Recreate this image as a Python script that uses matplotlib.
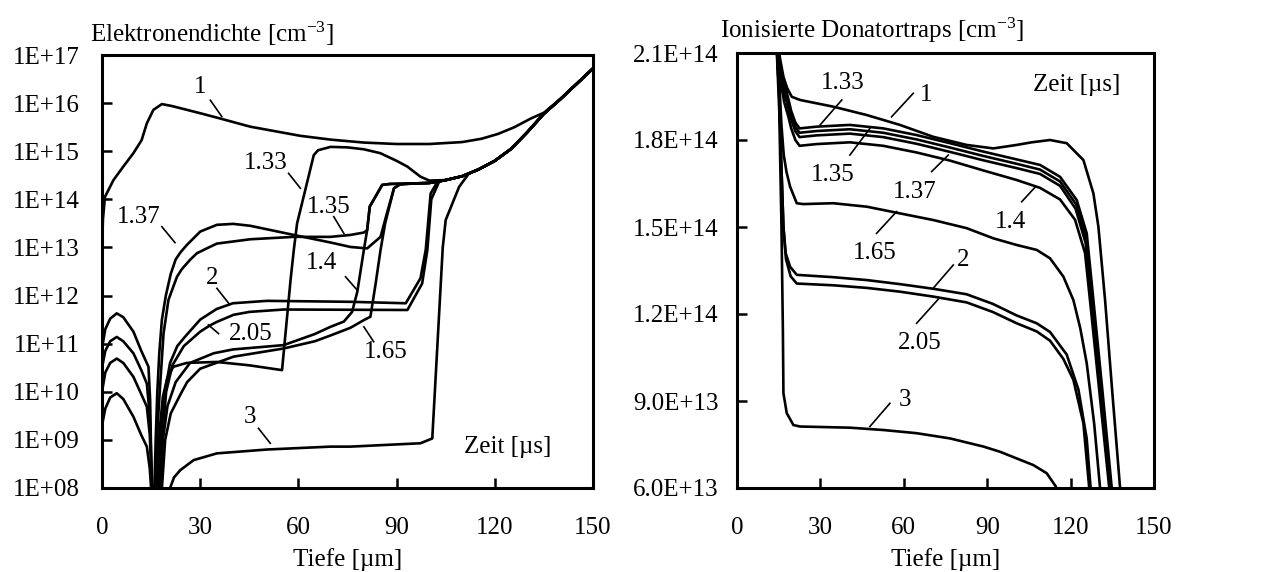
import numpy as np
import matplotlib.pyplot as plt

plt.rcParams['font.family'] = ['Liberation Serif', 'DejaVu Serif']
plt.rcParams['mathtext.fontset'] = 'custom'
plt.rcParams['mathtext.rm'] = 'Liberation Serif'
plt.rcParams['mathtext.it'] = 'Liberation Serif:italic'
FS = 18
plt.rcParams['font.size'] = FS

# ---------------- Elektronendichte (exponents of 10) ----------------
tail_x = [105, 110, 115, 120, 125, 130, 135, 140, 145, 150]
tail_e = [14.40, 14.48, 14.62, 14.80, 15.05, 15.40, 15.78, 16.08, 16.40, 16.72]

n1_x = [0, 0.3, 0.9, 3.5, 6.5, 9.6, 12.1, 13.7, 15.7, 18.3, 21.3, 30, 36.1, 45.3,
        60.6, 70, 80, 90, 100, 110, 116, 121, 126, 131, 135]
n1_e = [13.0, 13.6, 14.05, 14.40, 14.68, 14.96, 15.23, 15.58, 15.86, 15.98, 15.94,
        15.79, 15.68, 15.51, 15.32, 15.24, 15.18, 15.15, 15.15, 15.19, 15.26, 15.36,
        15.50, 15.68, 15.80]

n133_x = [16.4, 17.0, 17.6, 18.6, 20.0, 21.8, 25.9, 35, 45, 55, 57.6, 58.6, 59.6,
          64.7, 66, 69.8, 75, 80, 85, 90, 93.3, 97.3, 100]
n133_e = [7.0, 8.0, 9.2, 9.9, 10.3, 10.52, 10.60, 10.62, 10.55, 10.45, 12.32, 12.95,
          13.5, 14.92, 15.02, 15.09, 15.08, 15.04, 14.96, 14.80, 14.68, 14.47, 14.39]

n135_x = [16.0, 16.5, 17.0, 17.8, 18.8, 20.3, 22.9, 24.4, 27, 29, 32, 35.1, 45.3,
          58.6, 69.8, 75.9, 80, 81, 81.8, 85.6, 88, 95, 100]
n135_e = [7.0, 8.0, 9.3, 10.18, 11.21, 11.91, 12.39, 12.55, 12.75, 12.88, 12.98,
          13.08, 13.17, 13.22, 13.22, 13.26, 13.31, 13.36, 13.85, 14.30, 14.32, 14.33, 14.34]

n137_x = [15.6, 16.0, 16.4, 16.9, 17.5, 18.3, 19.5, 21.0, 22.5, 24, 25.9, 30, 35.1,
          40.1, 45.3, 58.6, 70, 75.9, 81, 85.1, 87, 89.2, 91, 95, 100]
n137_e = [7.0, 8.0, 9.0, 10.0, 10.8, 11.5, 12.0, 12.45, 12.75, 12.9, 13.05, 13.33,
          13.47, 13.49, 13.45, 13.26, 13.10, 13.01, 12.98, 13.22, 13.7, 14.23, 14.31,
          14.33, 14.34]

n14_x = [0, 1, 2.5, 4.5, 6.5, 9.6, 12, 14.2, 14.7, 15.2, 15.8, 16.9, 17.8, 18.6, 20.0,
         22.5, 26.9, 34.1, 40, 55.5, 65, 69.8, 73.9, 76.4, 78, 80, 81, 81.8, 85.6, 88,
         95, 100]
n14_e = [10.9, 11.3, 11.52, 11.63, 11.55, 11.25, 10.85, 10.52, 9.83, 8.0, 7.0, 7.0,
         8.0, 9.0, 9.7, 10.2, 10.6, 10.8, 10.88, 10.97, 11.2, 11.35, 11.46, 11.66,
         12.08, 12.95, 13.36, 13.85, 14.30, 14.32, 14.33, 14.34]

n165_x = [0, 1, 2.5, 4.5, 6.5, 9.6, 12, 13.7, 14.6, 15.2, 16.0, 17.3, 18.3, 19.3, 21,
          24, 26, 30, 40.2, 55.5, 65, 69.8, 75.9, 80, 82, 83.6, 85.1, 86.5, 89.2, 91,
          95, 100]
n165_e = [10.5, 10.85, 11.05, 11.14, 11.05, 10.80, 10.45, 10.17, 9.5, 8.3, 7.0, 7.0,
          8.0, 9.0, 9.55, 9.95, 10.2, 10.48, 10.73, 10.90, 11.05, 11.17, 11.33, 11.49,
          11.56, 12.25, 12.95, 13.5, 14.23, 14.31, 14.33, 14.34]

n2_x = [0, 1, 2.5, 4.5, 6.5, 9.6, 12, 13.7, 14.6, 15.2, 16.0, 17.0, 17.6, 18.2, 19.2,
        20.8, 23, 25.3, 30, 35, 40, 50.4, 75.9, 92.8, 97.3, 98.9, 100.4, 102.5]
n2_e = [10.0, 10.4, 10.6, 10.69, 10.6, 10.31, 9.95, 9.69, 9.1, 8.1, 7.0, 7.0, 8.0, 9.2,
        10.0, 10.6, 10.95, 11.14, 11.5, 11.72, 11.84, 11.89, 11.87, 11.84, 12.36, 12.95,
        14.12, 14.37]

n205_x = [0, 1, 2.5, 4.5, 6.5, 9.6, 12, 13.7, 14.6, 15.2, 16.0, 17.2, 17.9, 18.6, 19.6,
          21.5, 25, 30, 33, 35, 40.2, 45, 55.5, 93.3, 97.8, 99.4, 100.6, 103]
n205_e = [9.3, 9.65, 9.88, 9.97, 9.85, 9.48, 9.1, 8.86, 8.4, 7.8, 7.0, 7.0, 8.0, 9.2,
          10.0, 10.55, 10.95, 11.25, 11.38, 11.45, 11.6, 11.66, 11.71, 11.70, 12.25,
          12.95, 14.0, 14.37]

n3_x = [20.0, 20.8, 22, 23.9, 28, 35.1, 50.4, 69.8, 75.9, 97.3, 100.9, 104.1, 105,
        109.1, 112]
n3_e = [7.0, 8.0, 8.22, 8.37, 8.58, 8.72, 8.80, 8.86, 8.86, 8.93, 9.03, 13.0, 13.57,
        14.26, 14.53]

# ---------------- Ionisierte Donatortraps (units of 1E+13) ----------------
d1_x = [14.0, 15.5, 16.7, 18.0, 19.7, 22.7, 34.6, 46.7, 58.6, 70.6, 82.6, 92.2, 100.6,
        106, 112.6, 118.6, 124.6, 128.2, 130, 132.4, 135, 137.8, 138.3]
d1_y = [21.8, 20.8, 20.18, 19.8, 19.49, 19.38, 19.15, 18.86, 18.52, 18.11, 17.83, 17.71,
        17.83, 17.92, 18.0, 17.89, 17.31, 16.16, 15.01, 12.48, 9.3, 6.0, 5.5]

d133_x = [14.0, 15.5, 17.0, 18.5, 19.5, 21.0, 22.5, 28.7, 40.6, 52.6, 64.6, 76.6, 88.6,
          100.6, 109, 116.2, 122.2, 125.8, 128.2, 131.5, 134.8, 135.3]
d133_y = [21.8, 20.5, 20.0, 19.4, 19.0, 18.6, 18.40, 18.46, 18.52, 18.40, 18.17, 17.89,
          17.60, 17.33, 17.14, 16.73, 15.93, 14.78, 12.48, 9.3, 6.0, 5.5]

d135_x = [14.0, 15.5, 17.0, 18.5, 19.5, 21.0, 22.5, 28.7, 40.6, 52.6, 64.6, 76.6, 88.6,
          100.6, 109, 116.2, 122.0, 125.6, 128.0, 131.2, 134.5, 135.0]
d135_y = [21.8, 20.4, 19.8, 19.25, 18.85, 18.45, 18.25, 18.31, 18.37, 18.25, 18.02, 17.74,
          17.45, 17.18, 16.98, 16.57, 15.78, 14.6, 12.3, 9.2, 6.0, 5.5]

d137_x = [14.0, 15.5, 17.0, 18.5, 19.5, 21.0, 22.5, 28.7, 40.6, 52.6, 64.6, 76.6, 88.6,
          100.6, 109, 116.2, 121.8, 125.4, 127.8, 131.0, 134.2, 134.7]
d137_y = [21.8, 20.3, 19.6, 19.1, 18.7, 18.3, 18.1, 18.16, 18.22, 18.10, 17.87, 17.59,
          17.30, 17.03, 16.83, 16.42, 15.63, 14.45, 12.15, 9.1, 6.0, 5.5]

d14_x = [14.0, 15.5, 17.0, 18.5, 19.5, 21.0, 22.5, 28.7, 40.6, 52.6, 64.6, 76.6, 88.6,
         100.6, 109, 116.2, 121.6, 125.2, 127.6, 130.8, 133.9, 134.4]
d14_y = [21.8, 20.1, 19.3, 18.8, 18.4, 18.0, 17.8, 17.86, 17.92, 17.80, 17.57, 17.29,
         16.95, 16.62, 16.35, 15.95, 15.25, 14.1, 11.9, 8.9, 6.0, 5.5]

d165_x = [14.0, 15.2, 16.0, 16.8, 17.8, 19.1, 21.5, 23.8, 34.6, 46.7, 58.6, 70.6, 82.6,
          92.2, 100.6, 107.8, 112.6, 117.4, 121, 123.5, 125.8, 128.5, 130.6, 131.0]
d165_y = [21.8, 20.0, 18.5, 17.5, 16.9, 16.39, 15.82, 15.79, 15.82, 15.70, 15.47, 15.24,
          14.96, 14.61, 14.38, 14.21, 13.92, 13.29, 12.48, 11.5, 10.3, 8.2, 6.0, 5.5]

d2_x = [14.0, 15.2, 16.0, 16.7, 17.5, 19.1, 21.5, 34.6, 46.7, 58.6, 70.6, 82.6, 92,
        100.6, 107.8, 112.6, 118.6, 122.8, 125.8, 127.2, 127.6]
d2_y = [21.8, 19.5, 17.0, 15.0, 14.1, 13.63, 13.35, 13.27, 13.17, 13.03, 12.87, 12.68,
        12.35, 11.95, 11.68, 11.38, 10.6, 9.4, 7.7, 6.0, 5.5]

d205_x = [14.0, 15.2, 16.0, 16.7, 17.6, 19.3, 21.5, 34.6, 46.7, 58.6, 70.6, 82.6, 92,
          100.6, 107.8, 112.6, 117.4, 121, 124.6, 126.7, 127.1]
d205_y = [21.8, 19.5, 17.0, 15.0, 13.9, 13.3, 13.05, 12.99, 12.90, 12.77, 12.60, 12.40,
          12.07, 11.68, 11.40, 11.08, 10.45, 9.73, 8.23, 6.0, 5.5]

d3_x = [14.0, 15.2, 16.0, 16.5, 16.7, 17.9, 20.3, 22.7, 40.6, 52.6, 64.6, 76.6, 88.6,
        94.6, 100.6, 106.6, 111.4, 114.7, 115.2]
d3_y = [21.8, 19.0, 15.0, 11.5, 9.27, 8.58, 8.17, 8.12, 8.08, 8.0, 7.89, 7.71, 7.43,
        7.25, 7.02, 6.79, 6.51, 6.05, 5.5]

left_ticks = [8, 9, 10, 11, 12, 13, 14, 15, 16, 17]
right_ticks = [6.0, 9.0, 12.0, 15.0, 18.0, 21.0]
right_tick_labels = ['6.0E+13', '9.0E+13', '1.2E+14', '1.5E+14', '1.8E+14', '2.1E+14']
x_ticks = [0, 30, 60, 90, 120, 150]

LW = 1.9
fig = plt.figure(figsize=(12.73, 5.72), dpi=100)
ax1 = fig.add_axes([102 / 1273, 84 / 572, 491 / 1273, 433 / 572])
ax2 = fig.add_axes([737 / 1273, 84 / 572, 417 / 1273, 435 / 572])

# left panel: every curve after the plateau follows the common tail
left_series = [
    (n1_x, n1_e, 140),
    (n133_x, n133_e, 105),
    (n135_x, n135_e, 105),
    (n137_x, n137_e, 105),
    (n14_x, n14_e, 105),
    (n165_x, n165_e, 105),
    (n2_x, n2_e, 105),
    (n205_x, n205_e, 105),
    (n3_x, n3_e, 115),
]
tx = np.array(tail_x)
te = np.array(tail_e)
for xs, es, start in left_series:
    sel = tx >= start
    x = np.concatenate([xs, tx[sel]])
    e = np.concatenate([es, te[sel]])
    ax1.plot(x, 10.0 ** e, color='black', lw=LW, solid_joinstyle='round')

ax1.set_yscale('log')
ax1.set_xlim(0, 150)
ax1.set_ylim(1e8, 1e17)
ax1.set_yticks([10.0 ** k for k in left_ticks])
ax1.set_yticklabels(['1E+%02d' % k for k in left_ticks])
ax1.yaxis.set_minor_locator(plt.NullLocator())

for xs, ys in [(d1_x, d1_y), (d133_x, d133_y), (d135_x, d135_y), (d137_x, d137_y),
               (d14_x, d14_y), (d165_x, d165_y), (d2_x, d2_y), (d205_x, d205_y),
               (d3_x, d3_y)]:
    ax2.plot(xs, np.array(ys) * 1e13, color='black', lw=LW, solid_joinstyle='round')

ax2.set_xlim(0, 150)
ax2.set_ylim(6.0e13, 2.1e14)
ax2.set_yticks([v * 1e13 for v in right_ticks])
ax2.set_yticklabels(right_tick_labels)

for ax, ypad in [(ax1, 16), (ax2, 13)]:
    ax.set_xticks(x_ticks)
    ax.set_xticklabels([str(v) for v in x_ticks])
    for s in ax.spines.values():
        s.set_linewidth(2.2)
    ax.tick_params(axis='x', direction='in', length=7, width=1.8, pad=21, labelsize=FS)
    ax.tick_params(axis='y', direction='in', length=7, width=1.8, pad=ypad, labelsize=FS)

# curve labels with leader lines: (text, text x, text y, line start, line end)
left_labels = [
    ('1', 30.0, 16.34, (33.1, 16.06), (36.6, 15.72)),
    ('1.33', 49.9, 14.75, (57.0, 14.54), (60.6, 14.23)),
    ('1.35', 69.2, 13.85, (70.8, 13.64), (73.9, 13.29)),
    ('1.37', 11.1, 13.64, (18.3, 13.43), (22.3, 13.10)),
    ('2', 33.6, 12.36, (35.1, 12.15), (38.7, 11.84)),
    ('2.05', 45.3, 11.21, (35.6, 11.21), (32.5, 11.39)),
    ('1.4', 67.2, 12.67, (74.4, 12.39), (78.0, 12.11)),
    ('1.65', 86.6, 10.83, (83.0, 11.04), (80.0, 11.35)),
    ('3', 45.3, 9.48, (47.8, 9.24), (51.4, 8.93)),
]
for txt, x, e, p0, p1 in left_labels:
    ax1.text(x, 10.0 ** e, txt, ha='center', va='center', fontsize=FS)
    ax1.plot([p0[0], p1[0]], [10.0 ** p0[1], 10.0 ** p1[1]], color='black', lw=1.2)

right_labels = [
    ('1.33', 38.2, 19.96, (37.7, 19.38), (29.9, 18.52)),
    ('1', 68.2, 19.55, (63.4, 19.61), (55.6, 18.80)),
    ('1.35', 34.6, 16.79, (40.6, 17.48), (47.8, 18.40)),
    ('1.37', 64.0, 16.22, (70.0, 16.91), (76.0, 17.48)),
    ('1.4', 98.2, 15.18, (102.4, 15.87), (107.2, 16.37)),
    ('1.65', 49.6, 14.09, (50.2, 14.78), (57.4, 15.53)),
    ('2', 81.4, 13.86, (77.8, 13.69), (70.6, 12.89)),
    ('2.05', 65.8, 10.99, (64.6, 11.68), (72.4, 12.51)),
    ('3', 60.4, 9.03, (55.0, 8.92), (47.8, 8.12)),
]
for txt, x, y, p0, p1 in right_labels:
    ax2.text(x, y * 1e13, txt, ha='center', va='center', fontsize=FS)
    ax2.plot([p0[0], p1[0]], [p0[1] * 1e13, p1[1] * 1e13], color='black', lw=1.2)

ax1.text(123.9, 10.0 ** 8.86, 'Zeit [µs]', ha='center', va='center', fontsize=FS)
ax2.text(122.2, 19.9e13, 'Zeit [µs]', ha='center', va='center', fontsize=FS)

fig.text(90 / 1273, 1 - 42 / 572, r'Elektronendichte [cm$^{\mathregular{-3}}$]',
         ha='left', va='baseline', fontsize=FS)
fig.text(720 / 1273, 1 - 38 / 572, r'Ionisierte Donatortraps [cm$^{\mathregular{-3}}$]',
         ha='left', va='baseline', fontsize=FS)
fig.text(347.5 / 1273, 1 - 566 / 572, 'Tiefe [µm]', ha='center', va='baseline', fontsize=FS)
fig.text(945.5 / 1273, 1 - 566 / 572, 'Tiefe [µm]', ha='center', va='baseline', fontsize=FS)

fig.savefig('out.png', dpi=100)
